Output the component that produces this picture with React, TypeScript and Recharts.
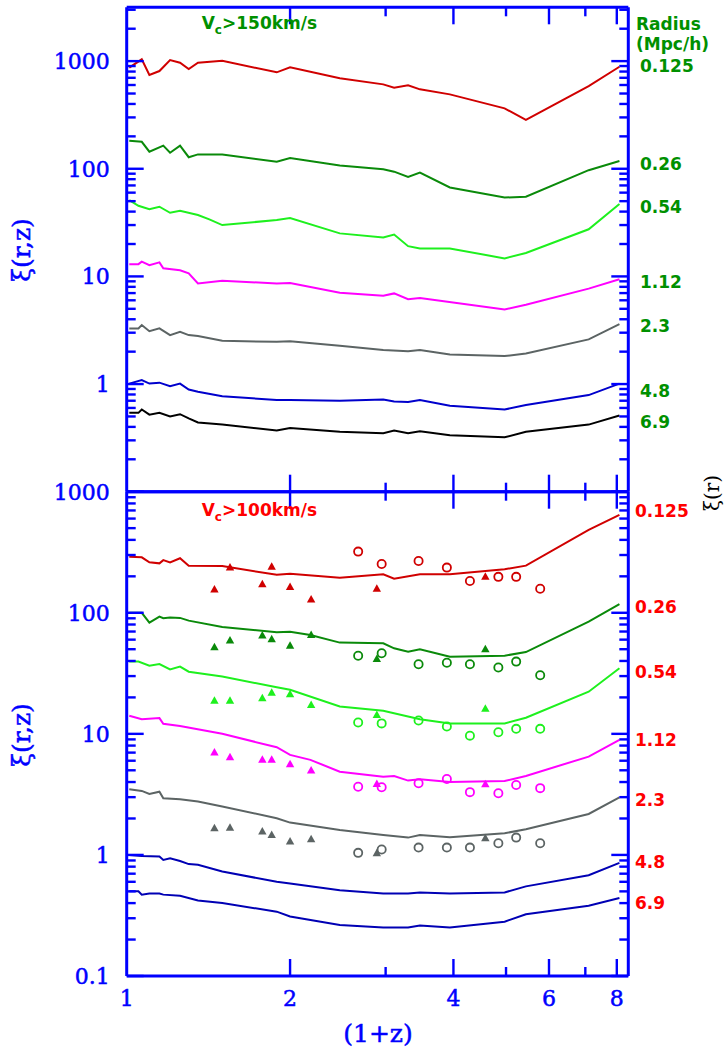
import React from 'react';
import { ComposedChart, Line, XAxis, YAxis } from 'recharts';

// ---------- data ----------
// (1+z) snapshots shared by the model curves
const X_GRID = [1.011, 1.051, 1.066, 1.101, 1.149, 1.168, 1.202, 1.254, 1.301, 1.353, 1.42, 1.5, 1.89, 2.0, 2.18, 2.47, 2.97, 3.11, 3.3, 3.47, 3.94, 4.97, 5.44, 7.1, 8.09];

// Top panel: Vc > 150 km/s
const topR0125 = [869, null, 1039, 743, 809, null, 1024, 967, 845, 967, null, 1008, 787, 876, null, 692, 608, 566, 596, 547, 491, 364, 284, 587, 887];
const topR026 = [182, null, 178, 144, null, 164, 141, 164, 128, 136, null, 136, 116, 126, null, 107, 99, 94, 84, 92, 67, 54, 55, 97, 118];
const topR054 = [51.2, 45.3, null, 42, 44.4, null, 39, 40.7, null, 37.2, 33.9, 30, 33.4, 34.8, null, 25.1, 23, 24.5, 19.1, 18.2, 18.2, 14.7, 16.5, 27.4, 47];
const topR112 = [13.0, 13.0, 13.7, 12.7, 13.5, 11.9, null, 11.4, 10.7, 8.6, null, 9.1, 8.6, 8.7, null, 7.05, 6.6, 6.95, 6.15, 6.3, null, 4.93, 5.45, 7.7, 9.4];
const topR23 = [3.29, 3.29, 3.53, 3.1, 3.29, null, 2.85, 3.06, 2.85, 2.79, null, 2.52, 2.47, 2.5, null, 2.27, 2.07, null, 2.02, 2.07, 1.88, 1.82, 1.92, 2.6, 3.6];
const topR48 = [1.01, null, 1.09, 1.01, 1.03, null, 0.956, 1.01, 0.89, 0.85, null, 0.77, 0.71, 0.71, null, 0.7, 0.72, 0.69, 0.68, 0.71, 0.63, 0.58, 0.64, 0.79, 1.01];
const topR69 = [0.54, 0.54, 0.58, 0.52, 0.54, null, 0.5, 0.525, 0.48, 0.44, null, 0.42, 0.37, 0.39, null, 0.36, 0.35, 0.37, 0.35, 0.365, 0.335, 0.32, 0.36, 0.42, 0.51];

// Bottom panel: Vc > 100 km/s
const botR0125 = [290, null, 287, 261, 256, 272, 261, 282, 245, null, null, 243, 206, 210, null, 195, 208, 191, null, 208, 208, 229, 245, 483, 643];
const botR026 = [100, null, 100, 82.9, 92.9, 90.1, 91.2, 90.7, 86.1, null, null, 76.4, 69.1, 69.8, 65.6, 56.7, 56, 50.9, 47.7, 50, 43.4, 44.2, 47.4, 84.5, 118];
const botR054 = [39.5, 39.5, null, 36.6, 37.7, null, 34.1, 35.9, 32.6, null, null, 29.7, 24.3, 23.1, null, 16.8, 15.5, null, null, 13.2, 12.2, 12.2, 13.6, 22.3, 34.8];
const botR112 = [14.1, null, 13.2, null, 13.5, 12.1, null, 11.6, null, null, null, 10, 7.75, 6.7, 6.1, 4.87, 4.43, 4.49, 4.11, 4.22, 4.01, 4.08, 4.49, 6.49, 8.9];
const botR23 = [3.49, null, 3.38, 3.19, 3.33, 2.94, null, 2.88, null, 2.76, null, 2.51, 2.01, 1.85, null, 1.61, 1.46, null, 1.39, 1.46, 1.4, 1.51, 1.63, 2.18, 2.99];
const botR48 = [1.0, null, 0.98, null, 0.97, 0.91, 0.94, 0.89, 0.84, 0.83, null, 0.73, 0.6, 0.58, null, 0.51, 0.48, null, 0.48, 0.49, 0.48, 0.49, 0.55, 0.68, 0.86];
const botR69 = [0.5, 0.5, 0.47, 0.48, 0.48, 0.47, null, 0.46, null, 0.42, null, 0.4, 0.34, 0.31, null, 0.264, 0.251, null, 0.251, 0.261, 0.251, 0.281, 0.324, 0.38, 0.44];

// Observational points (bottom panel)
const TRI_X = [1.451, 1.55, 1.778, 1.85, 2.0, 2.187, 2.89, 4.58];
const triR0125 = [156, 236, 172, 240, 163, 129, 158, 198];
const triR026 = [51.9, 58.9, 64.8, 60.4, 53.5, 65.6, 41.6, 50];
const triR054 = [18.8, 18.8, 19.7, 21.9, 21.2, 17.3, 14.3, 16.1];
const triR112 = [7.0, 6.41, 6.1, 6.1, 5.62, 4.97, 3.86, 3.83];
const triR23 = [1.66, 1.68, 1.56, 1.46, 1.29, 1.35, 1.03, 1.37];

const CIRC_X = [2.67, 2.95, 3.45, 3.89, 4.29, 4.84, 5.22, 5.78];
const circR0125 = [320, 253, 268, 236, 183, 198, 198, 158];
const circR026 = [44.2, 46.3, 37.6, 38.7, 37.6, 35.3, 39.5, 30.5];
const circR054 = [12.4, 12.2, 12.9, 11.5, 9.66, 10.3, 11.0, 11.0];
const circR112 = [3.66, 3.62, 3.91, 4.24, 3.3, 3.23, 3.78, 3.56];
const circR23 = [1.04, 1.11, 1.15, 1.15, 1.15, 1.25, 1.39, 1.25];

// Axis ticks / labels
const X_TICKS = [1, 2, 3, 4, 5, 6, 7, 8];
const X_MAJOR = [2, 4, 6, 8];
const X_LABELS = [1, 2, 4, 6, 8];
const TOP_DECADES = [0.1, 1, 10, 100, 1000];
const BOT_DECADES = [0.1, 1, 10, 100, 1000];
const TOP_Y_LABELS = [1, 10, 100, 1000];
const BOT_Y_LABELS = [0.1, 1, 10, 100, 1000];
const RADII = ['0.125', '0.26', '0.54', '1.12', '2.3', '4.8', '6.9'];

// ---------- style ----------
const AXIS_BLUE = '#0000ff';
const C_RED = '#d00000';
const C_DKGREEN = '#0a8a0a';
const C_GREEN = '#1ef01e';
const C_MAGENTA = '#ff00ff';
const C_GRAY = '#5c6464';
const C_BLUE = '#0000cc';
const C_BLUE2 = '#0000b4';
const C_BLACK = '#000000';
const T_GREEN = '#009000';
const T_RED = '#ff0000';

const PLOT_L = 126.7;
const PLOT_R = 628.3;
const W = 725;

const serifText = { fontFamily: 'DejaVu Serif', fill: AXIS_BLUE, stroke: AXIS_BLUE, strokeWidth: 0.5 } as const;

const minorTicks = (decades: number[], maxV: number) => {
  const out: number[] = [];
  decades.forEach((d) => {
    for (let k = 1; k <= 9; k++) {
      const v = Number((d * k).toPrecision(6));
      if (v <= maxV) out.push(v);
    }
  });
  return out;
};

const toPoints = (xs: number[], ys: (number | null)[]) =>
  xs.map((x, i) => ({ x, y: ys[i] })).filter((p) => p.y != null);

const yTick = (plotX: number, dir: number, decades: number[], labels: number[]) => (props: any) => {
  const { y, payload } = props;
  const v = payload.value;
  const major = decades.includes(v);
  const len = major ? 17 : 9;
  return (
    <g>
      <line x1={plotX} x2={plotX + dir * len} y1={y} y2={y} stroke={AXIS_BLUE} strokeWidth={2.4} />
      {labels.includes(v) ? (
        <text x={plotX - 17} y={y} dy="0.36em" textAnchor="end" {...serifText} fontSize={22}>
          {String(v)}
        </text>
      ) : null}
    </g>
  );
};

const xTick = (plotY: number, dir: number, labels: number[]) => (props: any) => {
  const { x, payload } = props;
  const v = payload.value;
  const len = X_MAJOR.includes(v) ? 17 : 9;
  return (
    <g>
      {v !== 1 ? <line x1={x} x2={x} y1={plotY} y2={plotY + dir * len} stroke={AXIS_BLUE} strokeWidth={2.4} /> : null}
      {labels.includes(v) ? (
        <text x={x} y={plotY + 30} textAnchor="middle" {...serifText} fontSize={22}>
          {String(v)}
        </text>
      ) : null}
    </g>
  );
};

const triDot = (color: string) => (props: any) => {
  const { cx, cy, index } = props;
  if (cx == null || cy == null) return <g key={`t${index}`} />;
  return <path key={`t${index}`} d={`M${cx},${cy - 4.5} L${cx + 4.2},${cy + 3} L${cx - 4.2},${cy + 3} Z`} fill={color} />;
};
const circDot = (color: string) => (props: any) => {
  const { cx, cy, index } = props;
  if (cx == null || cy == null) return <g key={`c${index}`} />;
  return <circle key={`c${index}`} cx={cx} cy={cy} r={4.1} fill="none" stroke={color} strokeWidth={1.8} />;
};

type Panel = {
  height: number;
  marginTop: number;
  marginBottom: number;
  topAxisH: number;
  botAxisH: number;
  yDomain: [number, number];
  decades: number[];
  yLabels: number[];
  xLabels: number[];
  lines: { key: string; color: string; values: (number | null)[] }[];
  tris: { key: string; color: string; values: number[] }[];
  circs: { key: string; color: string; values: number[] }[];
};

const PanelChart = ({ p }: { p: Panel }) => {
  const plotTop = p.marginTop + p.topAxisH;
  const plotBottom = p.height - p.marginBottom - p.botAxisH;
  const yTicks = minorTicks(p.decades, p.yDomain[1]);
  return (
    <ComposedChart width={W} height={p.height} margin={{ top: p.marginTop, right: 0, bottom: p.marginBottom, left: 0 }}>
      <XAxis
        xAxisId="b"
        type="number"
        dataKey="x"
        scale="log"
        domain={[1, 8.4]}
        allowDataOverflow
        ticks={X_TICKS}
        interval={0}
        height={p.botAxisH}
        tickLine={false}
        axisLine={{ stroke: AXIS_BLUE, strokeWidth: 3 }}
        tick={xTick(plotBottom, -1, p.xLabels)}
      />
      <XAxis
        xAxisId="t"
        orientation="top"
        type="number"
        dataKey="x"
        scale="log"
        domain={[1, 8.4]}
        allowDataOverflow
        ticks={X_TICKS}
        interval={0}
        height={p.topAxisH}
        tickLine={false}
        axisLine={{ stroke: AXIS_BLUE, strokeWidth: 3 }}
        tick={xTick(plotTop, 1, [])}
      />
      <YAxis
        yAxisId="l"
        type="number"
        scale="log"
        domain={p.yDomain}
        allowDataOverflow
        ticks={yTicks}
        interval={0}
        width={PLOT_L}
        tickLine={false}
        axisLine={{ stroke: AXIS_BLUE, strokeWidth: 3 }}
        tick={yTick(PLOT_L, 1, p.decades, p.yLabels)}
      />
      <YAxis
        yAxisId="r"
        orientation="right"
        type="number"
        scale="log"
        domain={p.yDomain}
        allowDataOverflow
        ticks={yTicks}
        interval={0}
        width={W - PLOT_R}
        tickLine={false}
        axisLine={{ stroke: AXIS_BLUE, strokeWidth: 3 }}
        tick={yTick(PLOT_R, -1, p.decades, [])}
      />
      {/* invisible series to bind secondary axes */}
      <Line xAxisId="t" yAxisId="r" data={toPoints(X_GRID, p.lines[0].values)} dataKey="y" stroke="none" dot={false} activeDot={false} isAnimationActive={false} />
      {p.lines.map((l) => (
        <Line
          key={l.key}
          xAxisId="b"
          yAxisId="l"
          data={toPoints(X_GRID, l.values)}
          dataKey="y"
          stroke={l.color}
          strokeWidth={2}
          dot={false}
          activeDot={false}
          isAnimationActive={false}
        />
      ))}
      {p.tris.map((s) => (
        <Line
          key={`tri-${s.key}`}
          xAxisId="b"
          yAxisId="l"
          data={toPoints(TRI_X, s.values)}
          dataKey="y"
          stroke="none"
          dot={triDot(s.color)}
          activeDot={false}
          isAnimationActive={false}
        />
      ))}
      {p.circs.map((s) => (
        <Line
          key={`circ-${s.key}`}
          xAxisId="b"
          yAxisId="l"
          data={toPoints(CIRC_X, s.values)}
          dataKey="y"
          stroke="none"
          dot={circDot(s.color)}
          activeDot={false}
          isAnimationActive={false}
        />
      ))}
    </ComposedChart>
  );
};

const topPanel: Panel = {
  height: 500,
  marginTop: 0.3,
  marginBottom: 0.3,
  topAxisH: 7,
  botAxisH: 8,
  yDomain: [0.1, 3162],
  decades: TOP_DECADES,
  yLabels: TOP_Y_LABELS,
  xLabels: [],
  lines: [
    { key: 'a', color: C_RED, values: topR0125 },
    { key: 'b', color: C_DKGREEN, values: topR026 },
    { key: 'c', color: C_GREEN, values: topR054 },
    { key: 'd', color: C_MAGENTA, values: topR112 },
    { key: 'e', color: C_GRAY, values: topR23 },
    { key: 'f', color: C_BLUE, values: topR48 },
    { key: 'g', color: C_BLACK, values: topR69 },
  ],
  tris: [],
  circs: [],
};

const botPanel: Panel = {
  height: 571,
  marginTop: 0.7,
  marginBottom: 15,
  topAxisH: 11,
  botAxisH: 60,
  yDomain: [0.1, 1000],
  decades: BOT_DECADES,
  yLabels: BOT_Y_LABELS,
  xLabels: X_LABELS,
  lines: [
    { key: 'a', color: C_RED, values: botR0125 },
    { key: 'b', color: C_DKGREEN, values: botR026 },
    { key: 'c', color: C_GREEN, values: botR054 },
    { key: 'd', color: C_MAGENTA, values: botR112 },
    { key: 'e', color: C_GRAY, values: botR23 },
    { key: 'f', color: C_BLUE2, values: botR48 },
    { key: 'g', color: C_BLUE2, values: botR69 },
  ],
  tris: [
    { key: 'a', color: C_RED, values: triR0125 },
    { key: 'b', color: C_DKGREEN, values: triR026 },
    { key: 'c', color: C_GREEN, values: triR054 },
    { key: 'd', color: C_MAGENTA, values: triR112 },
    { key: 'e', color: C_GRAY, values: triR23 },
  ],
  circs: [
    { key: 'a', color: C_RED, values: circR0125 },
    { key: 'b', color: C_DKGREEN, values: circR026 },
    { key: 'c', color: C_GREEN, values: circR054 },
    { key: 'd', color: C_MAGENTA, values: circR112 },
    { key: 'e', color: C_GRAY, values: circR23 },
  ],
};

const TOP_RADIUS_Y = [72, 170, 213, 288, 332, 397, 428];
const BOT_RADIUS_Y = [517, 613, 678, 746, 806, 868, 909];

const labelFont = { fontFamily: 'DejaVu Sans', fontWeight: 700, fontSize: 17 } as const;

export default function App() {
  return (
    <div style={{ position: 'absolute', left: 0, top: 0, width: W, height: 1051, background: '#fff', overflow: 'hidden' }}>
      <div style={{ position: 'absolute', left: 0, top: 0 }}>
        <PanelChart p={topPanel} />
      </div>
      <div style={{ position: 'absolute', left: 0, top: 480 }}>
        <PanelChart p={botPanel} />
      </div>
      <svg width={W} height={1051} style={{ position: 'absolute', left: 0, top: 0, pointerEvents: 'none' }}>
        {/* panel titles */}
        <text x={201.7} y={28.5} fill={T_GREEN} {...labelFont}>
          V<tspan fontSize={12} dy={5}>c</tspan>
          <tspan dy={-5}>&gt;150km/s</tspan>
        </text>
        <text x={201.7} y={515.5} fill={T_RED} {...labelFont}>
          V<tspan fontSize={12} dy={5}>c</tspan>
          <tspan dy={-5}>&gt;100km/s</tspan>
        </text>
        {/* radius legend */}
        <text x={636} y={30} fill={T_GREEN} {...labelFont}>Radius</text>
        <text x={636} y={50} fill={T_GREEN} {...labelFont}>(Mpc/h)</text>
        {RADII.map((r, i) => (
          <text key={`tg${i}`} x={640} y={TOP_RADIUS_Y[i]} fill={T_GREEN} {...labelFont}>{r}</text>
        ))}
        {RADII.map((r, i) => (
          <text key={`br${i}`} x={635} y={BOT_RADIUS_Y[i]} fill={T_RED} {...labelFont}>{r}</text>
        ))}
        {/* axis titles */}
        <text transform="translate(21,250) rotate(-90)" textAnchor="middle" dominantBaseline="central" {...serifText} fontSize={25}>ξ(r,z)</text>
        <text transform="translate(21,735) rotate(-90)" textAnchor="middle" dominantBaseline="central" {...serifText} fontSize={25}>ξ(r,z)</text>
        <text x={378} y={1042} textAnchor="middle" {...serifText} fontSize={25}>(1+z)</text>
        <text transform="translate(712,493) rotate(-90)" textAnchor="middle" dominantBaseline="central" fill="#000" fontFamily="DejaVu Serif" fontSize={20}>ξ(r)</text>
      </svg>
    </div>
  );
}
